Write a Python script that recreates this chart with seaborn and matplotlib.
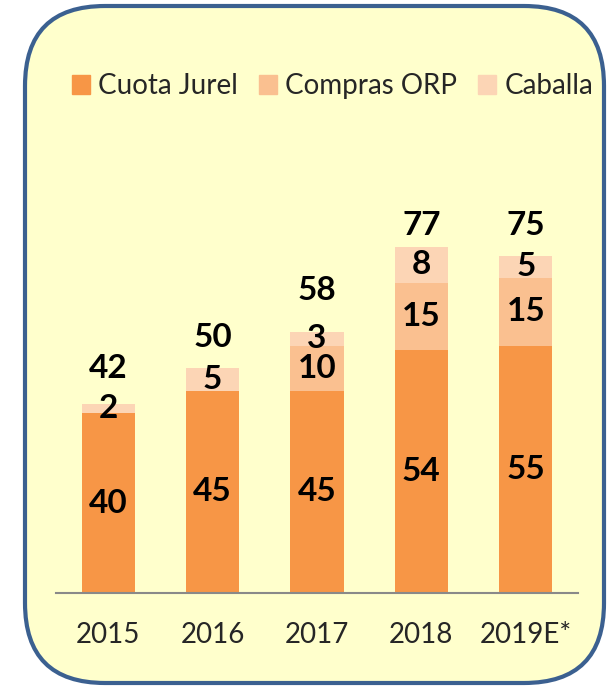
import numpy as np
import matplotlib
matplotlib.use("Agg")
import matplotlib.pyplot as plt
from matplotlib.patches import FancyBboxPatch, Patch
import seaborn as sns

sns.set_style("white")
plt.rcParams['font.family'] = ['Lato', 'DejaVu Sans']

# data
years = ["2015", "2016", "2017", "2018", "2019E*"]
cuota_jurel = [40, 45, 45, 54, 55]
compras_orp = [0, 0, 10, 15, 15]
caballa = [2, 5, 3, 8, 5]

# layout: how far above each bar top the total sits (data units)
total_gap = [7.8, 6.9, 9.3, 4.8, 6.8]

c_jurel = "#F79646"
c_orp = "#FAC090"
c_caballa = "#FCD5B5"

cuota = np.array(cuota_jurel)
stack2 = cuota + np.array(compras_orp)
total = stack2 + np.array(caballa)

fig = plt.figure(figsize=(6.08, 6.86), dpi=100)

# rounded yellow box behind everything, drawn in pixel units
bg = fig.add_axes([0, 0, 1, 1])
bg.set_xlim(0, 608)
bg.set_ylim(686, 0)
bg.axis("off")
bg.add_patch(FancyBboxPatch((25, 6), 579, 677,
                            boxstyle="round,pad=0,rounding_size=80",
                            facecolor="#FFFFCC", edgecolor="#3B6090", linewidth=3))

ax = fig.add_axes([56/608, 1 - 593/686, 522/608, 493/686])
ax.set_facecolor("none")

# stacked bars: draw the tallest first
sns.barplot(x=years, y=total, color=c_caballa, saturation=1, width=0.51,
            edgecolor="none", linewidth=0, ax=ax)
sns.barplot(x=years, y=stack2, color=c_orp, saturation=1, width=0.51,
            edgecolor="none", linewidth=0, ax=ax)
sns.barplot(x=years, y=cuota, color=c_jurel, saturation=1, width=0.51,
            edgecolor="none", linewidth=0, ax=ax)

lab_kw = dict(ha="center", va="center", fontsize=24, fontweight="bold", color="black")
for i in range(len(years)):
    bottoms = [0, cuota[i], stack2[i]]
    vals = [cuota_jurel[i], compras_orp[i], caballa[i]]
    for b, v in zip(bottoms, vals):
        if v > 0:
            ax.text(i, b + v / 2, str(v), **lab_kw)
    ax.text(i, total[i] + total_gap[i], str(total[i]), **lab_kw)

ax.set_ylim(0, 109.6)
ax.set_xlim(-0.5, 4.5)
ax.set_xlabel("")
ax.set_ylabel("")
ax.set_yticks([])
ax.tick_params(axis="x", length=0, pad=21, labelsize=20)
for s in ["left", "top", "right"]:
    ax.spines[s].set_visible(False)
ax.spines["bottom"].set_color("#898989")
ax.spines["bottom"].set_linewidth(1.5)

handles = [Patch(color=c_jurel), Patch(color=c_orp), Patch(color=c_caballa)]
fig.legend(handles, ["Cuota Jurel", "Compras ORP", "Caballa"],
           loc="center left", bbox_to_anchor=(72/608, 1 - 86/686), ncol=3,
           frameon=False, fontsize=20, handlelength=0.65, handleheight=0.65,
           handletextpad=0.3, columnspacing=0.75, borderpad=0, borderaxespad=0)

fig.savefig("out.png", dpi=100)
